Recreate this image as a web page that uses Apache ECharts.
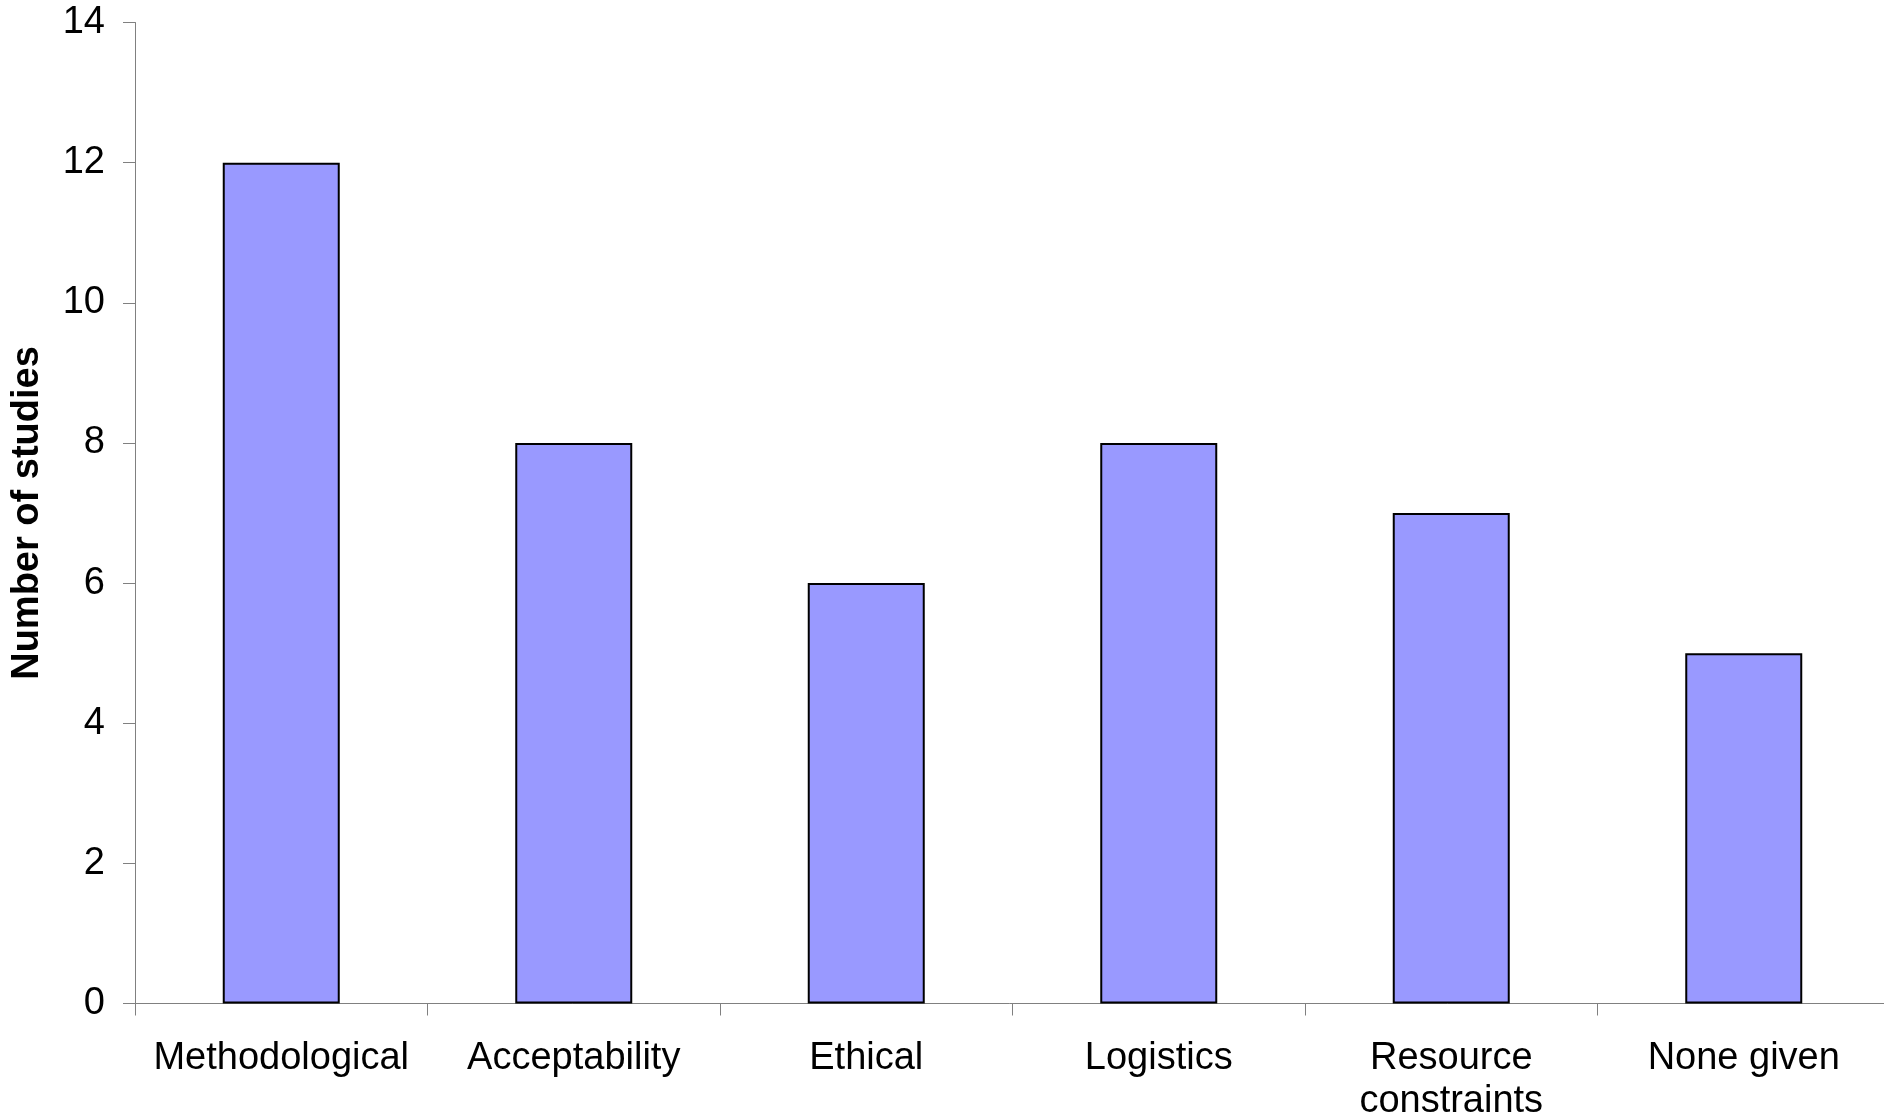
<!DOCTYPE html>
<html>
<head>
<meta charset="utf-8">
<script src="https://cdn.jsdelivr.net/npm/echarts@6/dist/echarts.min.js"></script>
<style>
  html, body { margin: 0; padding: 0; background: #ffffff; }
  #chart { width: 1884px; height: 1119px; }
</style>
</head>
<body>
<div id="chart"></div>
<script>
// Reasons given by studies, counted per category
const categories = ['Methodological', 'Acceptability', 'Ethical', 'Logistics', 'Resource\nconstraints', 'None given'];
const studyCounts = [12, 8, 6, 8, 7, 5];
const yTicks = { min: 0, max: 14, interval: 2 };

const FONT = 'Liberation Sans, Arial, Helvetica, sans-serif';
const AXIS_GRAY = '#808080';

const chart = echarts.init(document.getElementById('chart'), null, { renderer: 'canvas' });

chart.setOption({
  animation: false,
  backgroundColor: '#ffffff',
  // the plot area is a little wider than the canvas; its last few pixels are cut off
  grid: { left: 135, width: 1755, top: 22.5, height: 981, containLabel: false, outerBoundsMode: 'none' },
  xAxis: {
    type: 'category',
    data: categories,
    boundaryGap: true,
    axisLine: { show: true, lineStyle: { color: AXIS_GRAY, width: 1 } },
    axisTick: { show: true, length: 12, inside: false, alignWithLabel: false, lineStyle: { color: AXIS_GRAY, width: 1 } },
    axisLabel: {
      interval: 0,
      margin: 34,
      color: '#000000',
      fontFamily: FONT,
      fontSize: 38,
      lineHeight: 43
    },
    splitLine: { show: false }
  },
  yAxis: {
    type: 'value',
    min: yTicks.min,
    max: yTicks.max,
    interval: yTicks.interval,
    name: 'Number of studies',
    nameLocation: 'middle',
    nameGap: 88,
    nameTextStyle: { color: '#000000', fontFamily: FONT, fontSize: 38, fontWeight: 'bold' },
    axisLine: { show: true, lineStyle: { color: AXIS_GRAY, width: 1 } },
    axisTick: { show: true, length: 12, inside: false, lineStyle: { color: AXIS_GRAY, width: 1 } },
    axisLabel: { margin: 30, color: '#000000', fontFamily: FONT, fontSize: 38 },
    splitLine: { show: false }
  },
  series: [{
    type: 'bar',
    data: studyCounts,
    barWidth: '40%',
    itemStyle: { color: '#9999FF', borderColor: '#000000', borderWidth: 2 }
  }]
});
</script>
</body>
</html>
